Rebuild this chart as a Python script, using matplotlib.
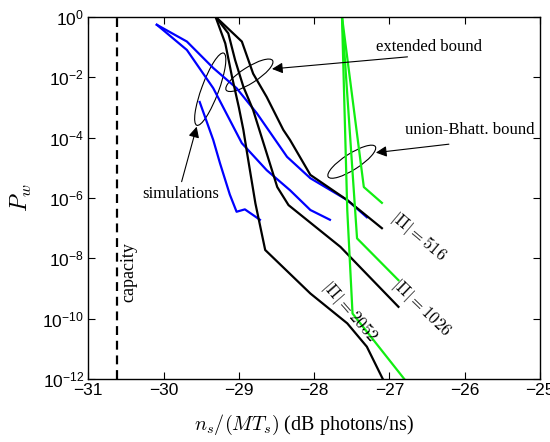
import matplotlib
matplotlib.use("Agg")
import matplotlib.pyplot as plt
from matplotlib.patches import Ellipse
from matplotlib.transforms import ScaledTranslation
from matplotlib.ticker import NullLocator

plt.rcParams['font.family'] = ['Liberation Sans', 'DejaVu Sans']

# ---- data ----
capacity_x = -30.62

sim_516_x = [-30.09, -29.69, -29.34, -29.03, -28.76, -28.36, -28.05, -27.56, -27.30]
sim_516_y = [5.4e-1, 1.5e-1, 2.0e-2, 4.3e-3, 6.3e-4, 2.3e-5, 4.5e-6, 8.5e-7, 2.3e-7]

sim_1026_x = [-30.09, -29.69, -29.34, -29.12, -28.96, -28.63, -28.32, -28.05, -27.79]
sim_1026_y = [5.4e-1, 7.9e-2, 4.3e-3, 3.8e-4, 6.5e-5, 8.3e-6, 1.8e-6, 4.0e-7, 1.9e-7]

sim_2052_x = [-29.52, -29.34, -29.25, -29.12, -29.03, -28.92, -28.72]
sim_2052_y = [1.5e-3, 8.3e-5, 1.4e-5, 1.3e-6, 3.5e-7, 4.2e-7, 1.9e-7]

ext_516_x = [-29.31, -28.96, -28.81, -28.63, -28.41, -28.32, -28.05, -27.56, -27.10]
ext_516_y = [1.0e0, 1.5e-1, 1.3e-2, 2.2e-3, 1.8e-4, 8.3e-5, 5.8e-6, 8.5e-7, 1.0e-7]

ext_1026_x = [-29.31, -29.14, -29.05, -28.94, -28.81, -28.63, -28.49, -28.34, -27.65, -26.88]
ext_1026_y = [1.0e0, 2.8e-1, 3.7e-2, 4.8e-3, 8.1e-4, 3.0e-5, 2.3e-6, 5.8e-7, 2.4e-8, 2.5e-10]

ext_2052_x = [-29.31, -29.18, -29.09, -29.00, -28.94, -28.89, -28.78, -28.65, -28.05, -27.56, -27.30, -27.08]
ext_2052_y = [1.0e0, 1.3e-1, 1.0e-2, 1.0e-3, 1.8e-4, 3.0e-5, 6.6e-7, 1.9e-8, 6.9e-10, 7.1e-11, 1.2e-11, 9.3e-13]

ub_516_x = [-27.63, -27.34, -27.10]
ub_516_y = [1.0e0, 2.3e-6, 6.9e-7]

ub_1026_x = [-27.63, -27.43, -26.88]
ub_1026_y = [1.0e0, 4.6e-8, 1.9e-9]

ub_2052_x = [-27.63, -27.56, -27.49, -26.79]
ub_2052_y = [1.0e0, 4.0e-7, 1.5e-10, 9.3e-13]

x_ticks = [-31, -30, -29, -28, -27, -26, -25]
y_ticks = [1e0, 1e-2, 1e-4, 1e-6, 1e-8, 1e-10, 1e-12]

# ---- figure ----
fig = plt.figure(figsize=(5.5, 4.42), dpi=100)
ax = fig.add_axes([0.1605, 0.1419, 0.8213, 0.8204])

lw = 1.6
blue = (0, 0, 1)
green = '#11ee11'
ax.plot(sim_516_x, sim_516_y, color=blue, lw=lw)
ax.plot(sim_1026_x, sim_1026_y, color=blue, lw=lw)
ax.plot(sim_2052_x, sim_2052_y, color=blue, lw=lw)
ax.plot(ext_516_x, ext_516_y, color='k', lw=lw)
ax.plot(ext_1026_x, ext_1026_y, color='k', lw=lw)
ax.plot(ext_2052_x, ext_2052_y, color='k', lw=lw)
ax.plot(ub_516_x, ub_516_y, color=green, lw=lw)
ax.plot(ub_1026_x, ub_1026_y, color=green, lw=lw)
ax.plot(ub_2052_x, ub_2052_y, color=green, lw=lw)
ax.axvline(capacity_x, color='k', lw=1.6, ls=(0, (4, 2.6)))

ax.set_yscale('log')
ax.set_xlim(-31, -25)
ax.set_ylim(1e-12, 1e0)
ax.set_xticks(x_ticks)
ax.set_yticks(y_ticks)
ax.yaxis.set_minor_locator(NullLocator())
ax.tick_params(direction='in', top=True, right=True, length=5, width=0.8,
               labelsize=12.5, pad=3)
for s in ax.spines.values():
    s.set_linewidth(1.0)

ax.set_xlabel(r'$n_s/(MT_s)$ (dB photons/ns)', fontsize=14.5,
              fontfamily='Liberation Serif', math_fontfamily='cm')
ax.xaxis.set_label_coords(0.478, -0.126)
ax.xaxis.label.set_va('center')
ax.set_ylabel(r'$P_w$', fontsize=17, math_fontfamily='cm')
ax.yaxis.set_label_coords(-0.147, 0.5)
ax.yaxis.label.set_va('center')

serif = 'Liberation Serif'
ax.text(-30.46, 10**-8.46, 'capacity', rotation=90, ha='center', va='center',
        fontsize=13, fontfamily=serif)

def ell(x, y, w_px, h_px, ang):
    tr = fig.dpi_scale_trans + ScaledTranslation(x, y, ax.transData)
    e = Ellipse((0, 0), w_px / 100.0, h_px / 100.0, angle=ang, fill=False,
                ec='k', lw=0.8, transform=tr)
    ax.add_patch(e)

ell(-28.86, 10**-1.94, 55, 16, 32.5)
ell(-29.38, 10**-2.40, 77, 17, 69.6)
ell(-27.50, 10**-4.80, 56, 16, 32.7)

def arrow(tail, tip):
    ax.annotate('', xy=tip, xytext=tail,
                arrowprops=dict(arrowstyle='-|>', color='k', lw=0.8,
                                mutation_scale=16, shrinkA=0, shrinkB=0))

arrow((-26.76, 10**-1.33), (-28.56, 10**-1.73))
arrow((-29.76, 10**-5.46), (-29.56, 10**-3.64))
arrow((-26.21, 10**-4.22), (-27.18, 10**-4.50))

ax.text(-26.47, 10**-1.0, 'extended bound', ha='center', va='center',
        fontsize=12, fontfamily=serif)
ax.text(-29.77, 10**-5.87, 'simulations', ha='center', va='center',
        fontsize=12, fontfamily=serif)
ax.text(-25.93, 10**-3.75, 'union-Bhatt. bound', ha='center', va='center',
        fontsize=12, fontfamily=serif)

ax.text(-26.62, 10**-7.26, r'$|\Pi| = 516$', rotation=-40, ha='center',
        va='center', fontsize=12, math_fontfamily='cm', rotation_mode='anchor')
ax.text(-26.58, 10**-9.65, r'$|\Pi| = 1026$', rotation=-44, ha='center',
        va='center', fontsize=12, math_fontfamily='cm', rotation_mode='anchor')
ax.text(-27.53, 10**-9.76, r'$|\Pi| = 2052$', rotation=-49, ha='center',
        va='center', fontsize=12, math_fontfamily='cm', rotation_mode='anchor')

fig.savefig('out.png', dpi=100)
